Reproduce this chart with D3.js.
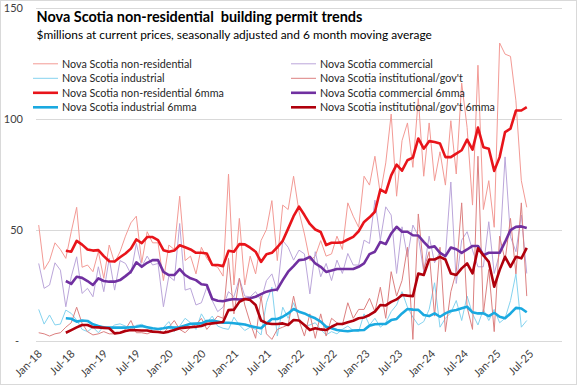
<!DOCTYPE html>
<html><head><meta charset="utf-8">
<script src="https://cdn.jsdelivr.net/npm/d3@7"></script>
<style>
body{margin:0;background:#fff}
svg{display:block}
text{font-family:Lato,"Liberation Sans",sans-serif}
</style>
</head><body>
<svg id="chart" width="577" height="385"></svg>
<script>
// ---------- DATA ----------
const categories = (
 "Jan-18 Feb-18 Mar-18 Apr-18 May-18 Jun-18 Jul-18 Aug-18 Sep-18 Oct-18 Nov-18 Dec-18 " +
 "Jan-19 Feb-19 Mar-19 Apr-19 May-19 Jun-19 Jul-19 Aug-19 Sep-19 Oct-19 Nov-19 Dec-19 " +
 "Jan-20 Feb-20 Mar-20 Apr-20 May-20 Jun-20 Jul-20 Aug-20 Sep-20 Oct-20 Nov-20 Dec-20 " +
 "Jan-21 Feb-21 Mar-21 Apr-21 May-21 Jun-21 Jul-21 Aug-21 Sep-21 Oct-21 Nov-21 Dec-21 " +
 "Jan-22 Feb-22 Mar-22 Apr-22 May-22 Jun-22 Jul-22 Aug-22 Sep-22 Oct-22 Nov-22 Dec-22 " +
 "Jan-23 Feb-23 Mar-23 Apr-23 May-23 Jun-23 Jul-23 Aug-23 Sep-23 Oct-23 Nov-23 Dec-23 " +
 "Jan-24 Feb-24 Mar-24 Apr-24 May-24 Jun-24 Jul-24 Aug-24 Sep-24 Oct-24 Nov-24 Dec-24 " +
 "Jan-25 Feb-25 Mar-25 Apr-25 May-25 Jun-25 Jul-25").split(" ");
// empty categories the axis continues through
const emptyCategories = ["Aug-25","Sep-25","Oct-25","Nov-25","Dec-25","Jan-26"];
const tickLabels = ["Jan-18","Jul-18","Jan-19","Jul-19","Jan-20","Jul-20","Jan-21","Jul-21",
  "Jan-22","Jul-22","Jan-23","Jul-23","Jan-24","Jul-24","Jan-25","Jul-25"];
const yTicks = [0, 50, 100, 150];

const nonResidential = [52,32,36,44,41,37,49,60,33,34, 31,40,28,43,35,40,47,53,56,35,
  49,44,44,27,43,41,65,36,38,30, 42,37,34,33,29,75,25,55,25,38,
  30,45,50,63,36,61,59,74,58,48, 36,38,45,38,39,47,41,62,56,51,
  74,70,83,66,80,102,65,90,98,78, 109,74,98,72,85,70,99,75,116,96,
  61,124,59,72,51,134,129,128,108,72, 60];
const commercial = [34.7,23.5,25,35,31.7,15.2,28.7,37.7,21.2,23.5, 19.7,33.2,22,37,22.7,36,34.7,30,43.7,33.2,
  38,34,34.7,15.2,29,27,52.7,22.7,23.5,16, 17,24,18,13,15,22,19.7,28,20,19.7,
  22,18,27,30,22,45,42,36.2,40.7,39, 21,40,28.7,34.7,27,36.2,30.2,39.2,34,34,
  45.2,43.7,63.2,45.2,60.2,56.5,30.2,51.2,37.7,52, 47,31,47,35,40,38,71.4,25.7,45.2,49,
  40.7,33.2,33.2,53.5,30.2,39.2,82.7,46.7,40,56.5, 30.2];
const industrial = [14,7.4,11.5,7,7.4,13.7,12.2,9.2,5,4, 6,3.5,6.5,5,7,7.5,6.5,4.5,6.8,7.3,
  6,4.7,3.5,5.8,8.5,4,6.5,10,8,5, 12,8,11,6.5,5.5,5,10.5,7,4.5,6,
  5,2.5,17,24,2,15,10,17,10,6.5, 7,8,5,2.5,4,3,5,6.5,4.5,4,
  12,7,10,6,8,13,16,22,15,10.5, 7,8.5,14,26,6,10,12.5,18,9,20,
  12,7,14,9,14,8,10,18,30,6, 9];
const institutional = [3.5,3,2,3,3.5,6,8,15,7.7,4, 2.5,3,4,3,3,3.5,5,9,3.5,3.5,
  3,4,4,3.5,6,9,5,3.5,6,7, 10,5,8,11,10,37,12,28,16,8,
  1,20,3,0.5,5,6,7,20,9,2, 12,1,12,2,10,8,7,17,10,14,
  14,19,13,24,10,31,20,27,42,0.5, 57,32,40,11,42,4,22,31,62,15,
  5,83,12,32,4,47,36,55,30,62, 20];

// 6 month moving averages (first value is Jun-18)
const nonResidential6mma = [null,null,null,null,null,
  40.4,40.0,44.9,43.2,41, 40.5,40.7,38,35.7,35.6,37.5,39.2,41.4,45.5,43.9,
  46.6,46.6,45.2,40.7,40,40.5,42.9,42,41,39.5, 39.5,39.2,34,34,33.5,40.4,40,43.4,43.3,41.8,
  40,35.4,38.9,39.5,42,44.9,50.4,56,60.3,56.5, 52.5,50,48.9,43,44,44,44.2,45.5,46.7,49.2,
  53.4,55.5,58,68,66.6,74.4,79.2,76.5,81.2,82.4, 91,86.4,89.8,89.4,88.7,82.6,82.6,84.2,85.7,90.5,
  86,95.9,87.1,86.4,76.4,82.6,93.9,95.4,103.6,103.6, 105.1];
const commercial6mma = [null,null,null,null,null,
  26.8,25.5,28.7,28.2,26.8, 25,28,26.8,26.5,26.5,27.2,29,31,35.2,33.2,
  35,36.2,36.2,30.9,29.5,29.5,32.2,29.5,28,27.2, 25.3,25,18.7,17.9,17.7,18.3,18.7,18.5,18.7,19,
  19.7,20.9,22,22.6,23,27.2,31,33.5,36.2,36.5, 37.7,34.7,33.2,30.9,31.5,32.2,32.2,32.2,32.2,33.2,
  34.7,38.9,40,44.4,43.4,48.2,51.2,49,49,47.4, 47.3,44.4,41.9,42.4,39.5,38,41.9,41.1,39.5,41,
  42.6,42.6,38.4,39.5,39.5,39.5,44.4,49.7,51.2,51.4, 50.7];
const industrial6mma = [null,null,null,null,null,
  10,9.8,8.5,9,8.8, 7.3,6.5,5.8,5.8,5.8,5.8,5.8,6,6.2,6.5,
  6,5.5,5.2,5.5,6,5.8,6,6.8,7.5,7.6, 7.7,8.8,9,8.5,8,8,7.8,7.5,7.2,6.5,
  6,5.5,7.7,9.7,9.7,10.7,12.2,14.2,13,12.2, 11,10,8.5,6.2,5.5,4.7,4.4,4.2,4.5,4.6,
  4.7,6.7,7.3,7.4,7.5,9.2,9.7,12.2,14.2,13.9, 13.8,11.5,11,12.2,10.7,12.2,13.3,13.7,14.5,15.2,
  12.7,12.2,12.2,11,12.5,10.7,10,12.2,14.7,14.4, 12.7];
const institutional6mma = [null,null,null,null,null,
  3.5,4.7,5.9,7,7, 6,5.9,5.7,5.5,3.2,3.5,4.3,4.7,4.6,4.5,
  4.5,4,3.8,3.5,4,4.7,5.5,5.8,6,6.2, 6.5,7.4,7.7,8,8.3,13.7,13.9,17.4,18.7,18.2,
  16,9,7.8,7.4,7.4,7.7,7,9.2,9,7, 4.7,5.5,5,4.7,6.2,7.4,7.4,8.2,8.9,10,
  10.4,11.5,13,16,15.8,17.4,18.5,20.5,20.2,20, 30.2,29.5,36.5,36.5,37.7,36.5,30.2,29.5,32.5,34.7,
  30.2,41.5,38.4,35.4,24.2,31.7,37.7,33.2,37.7,37, 41.7];

const seriesNames = ["Nova Scotia non-residential","Nova Scotia commercial","Nova Scotia industrial",
  "Nova Scotia institutional/gov't","Nova Scotia non-residential 6mma","Nova Scotia commercial 6mma",
  "Nova Scotia industrial 6mma","Nova Scotia institutional/gov't 6mma"];
const seriesValues = [nonResidential, commercial, industrial, institutional,
  nonResidential6mma, commercial6mma, industrial6mma, institutional6mma];

// ---------- STYLE ----------
const seriesColors = ["#f39a95","#bba6da","#85d3ef","#dc8080","#e8141a","#7030a0","#1aa9e0","#b0000c"];
const seriesWidths = [1,1,1,1,2.6,2.6,2.6,2.6];
const legendCol = [0,1,0,1,0,1,0,1];
const legendRow = [0,0,1,1,2,2,3,3];

const W = 577, H = 385;
const plot = {left: 36, right: 562, top: 7.5, bottom: 340.5};

const svg = d3.select("#chart");
svg.append("rect").attr("x",0.5).attr("y",0.5).attr("width",W-1).attr("height",H-1)
  .attr("fill","#fff").attr("stroke","#d9d9d9");

const x = d3.scaleBand().domain(categories.concat(emptyCategories))
  .range([plot.left, plot.right]).padding(0);
const xc = c => x(c) + x.bandwidth()/2;
const y = d3.scaleLinear().domain([0,150]).range([plot.bottom, plot.top]);

// gridlines
svg.append("g").selectAll("line").data(yTicks).join("line")
  .attr("x1", plot.left).attr("x2", plot.right)
  .attr("y1", d => Math.round(y(d))+0.5).attr("y2", d => Math.round(y(d))+0.5)
  .attr("stroke", "#d9d9d9").attr("stroke-width", 1);

// y labels
const yAxis = d3.axisLeft(y).tickValues(yTicks).tickSize(0).tickPadding(0)
  .tickFormat(d => d === 0 ? "-" : d3.format("d")(d));
const gy = svg.append("g").attr("transform", "translate(23,0)").call(yAxis);
gy.select(".domain").remove();
gy.selectAll("text").attr("font-size", 11).attr("fill", "#404040")
  .attr("font-family","Lato, 'Liberation Sans', sans-serif")
  .attr("x", d => d === 0 ? -4 : 0);

// x labels
const xAxis = d3.axisBottom(x).tickValues(tickLabels).tickSize(0).tickPadding(0);
const gx = svg.append("g").attr("transform", `translate(0,${plot.bottom})`).call(xAxis);
gx.select(".domain").remove();
gx.selectAll(".tick").attr("transform", (d,i) => `translate(${xc(d) + 3 + 3.5*i/15},0)`);
gx.selectAll("text")
  .attr("font-size", 11).attr("fill", "#404040")
  .attr("font-family","Lato, 'Liberation Sans', sans-serif")
  .attr("text-anchor", "end")
  .attr("dy", null).attr("y", null)
  .attr("transform", "translate(1,14) rotate(-45)");

// series
const line = d3.line().defined(d => d != null)
  .x((d,i) => xc(categories[i])).y(d => y(d));
seriesValues.forEach((vals, k) => {
  svg.append("path").datum(vals)
    .attr("d", line).attr("fill","none")
    .attr("stroke", seriesColors[k]).attr("stroke-width", seriesWidths[k])
    .attr("stroke-linejoin","round");
});

// title
function fit(sel, target) {
  const w = sel.node().getComputedTextLength();
  const fs = parseFloat(sel.attr("font-size"));
  sel.attr("font-size", fs * target / w);
}
const title = svg.append("text").attr("x", 36.5).attr("y", 22)
  .attr("font-weight", "bold").attr("font-size", 15).attr("fill", "#000")
  .style("white-space","pre")
  .text("Nova Scotia non-residential  building permit trends");
fit(title, 326);
const sub = svg.append("text").attr("x", 36.5).attr("y", 38.5)
  .attr("font-size", 12.5).attr("fill", "#000")
  .text("$millions at current prices, seasonally  adjusted and 6 month moving average");
fit(sub, 396);

// legend
const legX = [33, 291], legY = [63.8, 78.3, 92.8, 107.3];
const lg = svg.append("g");
const probe = lg.append("text").attr("font-size", 11).text(seriesNames[0]);
const legFont = 11 * 130 / probe.node().getComputedTextLength();
probe.remove();
seriesNames.forEach((name, k) => {
  const gx0 = legX[legendCol[k]], gy0 = legY[legendRow[k]];
  lg.append("line").attr("x1", gx0).attr("x2", gx0 + 25)
    .attr("y1", gy0).attr("y2", gy0)
    .attr("stroke", seriesColors[k]).attr("stroke-width", seriesWidths[k]);
  lg.append("text").attr("x", gx0 + 29).attr("y", gy0).attr("dy","0.35em")
    .attr("font-size", legFont).attr("fill", "#262626").text(name);
});
</script>
</body></html>
